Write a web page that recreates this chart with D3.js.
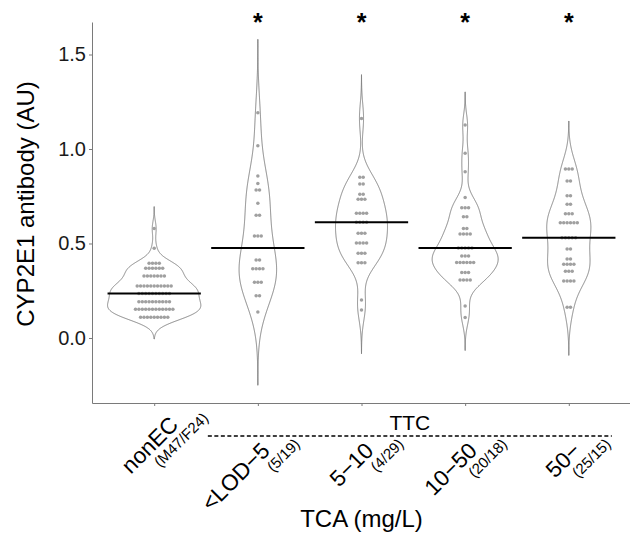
<!DOCTYPE html>
<html>
<head>
<meta charset="utf-8">
<script src="https://cdn.jsdelivr.net/npm/d3@7"></script>
<style>
  body { margin: 0; background: #fff; }
  text { font-family: "Liberation Sans", Arial, sans-serif; }
</style>
</head>
<body>
<svg id="chart" width="630" height="538"></svg>
<script>
'use strict';

var groups = ['nonEC', '<LOD\u22125', '5\u221210', '10\u221250', '50\u2212'];
var groupCounts = ['(M47/F24)', '(5/19)', '(4/29)', '(20/18)', '(25/15)'];
var starred = [false, true, true, true, true];
var ttcGroups = groups.slice(1);
var yTicks = [0, 0.5, 1.0, 1.5];

// dot rows: [value, number of dots in the row]
var nonECRows = [[0.58, 1], [0.475, 1], [0.395, 4], [0.369, 6], [0.328, 7],
  [0.275, 11], [0.236, 10], [0.192, 10], [0.152, 12], [0.110, 9]];
var lodTo5Rows = [[1.192, 1], [1.017, 1], [0.857, 1], [0.818, 1], [0.783, 2],
  [0.713, 1], [0.649, 2], [0.540, 3], [0.413, 2], [0.367, 4], [0.295, 3],
  [0.224, 2], [0.138, 1]];
var from5To10Rows = [[1.162, 1], [0.850, 2], [0.815, 2], [0.760, 2], [0.734, 3],
  [0.660, 4], [0.612, 4], [0.554, 3], [0.503, 4], [0.448, 3], [0.398, 3],
  [0.201, 1], [0.148, 1]];
var from10To50Rows = [[1.127, 1], [0.977, 1], [0.880, 1], [0.744, 1], [0.689, 3],
  [0.642, 2], [0.580, 2], [0.550, 4], [0.476, 5], [0.434, 3], [0.400, 6],
  [0.346, 3], [0.307, 4], [0.169, 1], [0.109, 1]];
var over50Rows = [[0.894, 3], [0.831, 2], [0.753, 2], [0.707, 2], [0.658, 3],
  [0.610, 6], [0.531, 5], [0.471, 2], [0.418, 2], [0.390, 4], [0.353, 3],
  [0.302, 4], [0.162, 2]];

var rowsByGroup = [nonECRows, lodTo5Rows, from5To10Rows, from10To50Rows, over50Rows];

var svg = d3.select('#chart');

var x = d3.scalePoint().domain(groups).range([92, 631]).padding(0.6);
var y = d3.scaleLinear().domain([-0.344, 1.672]).range([403, 22]);
var halfBand = x.step() * 0.45;

function expand(rows) {
  var out = [];
  rows.forEach(function (r) {
    for (var i = 0; i < r[1]; i++) {
      out.push(r[0]);
    }
  });
  return out;
}

// bandwidth as R's bw.nrd0
function bwNrd0(values) {
  var sd = d3.deviation(values);
  var iqr = (d3.quantile(values, 0.75) - d3.quantile(values, 0.25)) / 1.34;
  var lo = Math.min(sd, iqr) || sd;
  return 0.9 * lo * Math.pow(values.length, -0.2);
}

// gaussian kernel density, not trimmed (cut = 3)
function kde(values) {
  var bw = bwNrd0(values);
  var lo = d3.min(values) - 3 * bw;
  var hi = d3.max(values) + 3 * bw;
  var norm = values.length * bw * Math.sqrt(2 * Math.PI);
  var pts = [];
  for (var i = 0; i < 512; i++) {
    var t = lo + (hi - lo) * i / 511;
    var s = 0;
    for (var j = 0; j < values.length; j++) {
      var z = (t - values[j]) / bw;
      s += Math.exp(-0.5 * z * z);
    }
    pts.push({value: t, density: s / norm});
  }
  return pts;
}

var series = groups.map(function (g, i) {
  var values = expand(rowsByGroup[i]);
  return {
    name: g,
    rows: rowsByGroup[i],
    values: values,
    curve: kde(values),
    median: d3.median(values)
  };
});

// scale = "area": all violins share one density scale
var maxDensity = d3.max(series, function (s) {
  return d3.max(s.curve, function (p) { return p.density; });
});

// axes
var yAxis = svg.append('g')
  .attr('transform', 'translate(92,0)')
  .call(d3.axisLeft(y).tickValues(yTicks).tickSize(3).tickSizeOuter(0)
    .tickFormat(d3.format('.1f')));
var xAxis = svg.append('g')
  .attr('transform', 'translate(0,403)')
  .call(d3.axisBottom(x).tickSize(3).tickSizeOuter(0).tickFormat(''));

[yAxis, xAxis].forEach(function (a) {
  a.select('.domain').attr('stroke', '#7a7a7a').attr('stroke-width', 1);
  a.selectAll('.tick line').attr('stroke', '#7a7a7a');
});
yAxis.selectAll('.tick text')
  .attr('font-size', 20)
  .attr('fill', '#1a1a1a')
  .attr('font-family', '"Liberation Sans", Arial, sans-serif')
  .attr('x', -6);

var violinArea = d3.area()
  .y(function (p) { return y(p.value); });

var groupG = svg.selectAll('g.violin')
  .data(series)
  .enter()
  .append('g')
  .attr('class', 'violin');

groupG.append('path')
  .attr('d', function (s) {
    var cx = x(s.name);
    return violinArea
      .x0(function (p) { return cx - halfBand * p.density / maxDensity; })
      .x1(function (p) { return cx + halfBand * p.density / maxDensity; })(s.curve);
  })
  .attr('fill', '#fff')
  .attr('stroke', '#767676')
  .attr('stroke-width', 0.9);

var dotStep = 3.4;
groupG.each(function (s) {
  var cx = x(s.name);
  var dots = [];
  s.rows.forEach(function (r) {
    for (var i = 0; i < r[1]; i++) {
      dots.push({cx: cx + (i - (r[1] - 1) / 2) * dotStep, v: r[0]});
    }
  });
  d3.select(this).selectAll('circle')
    .data(dots)
    .enter()
    .append('circle')
    .attr('cx', function (d) { return d.cx; })
    .attr('cy', function (d) { return y(d.v); })
    .attr('r', 1.75)
    .attr('fill', '#a0a0a0');
});

groupG.append('line')
  .attr('x1', function (s) { return x(s.name) - halfBand; })
  .attr('x2', function (s) { return x(s.name) + halfBand; })
  .attr('y1', function (s) { return y(s.median); })
  .attr('y2', function (s) { return y(s.median); })
  .attr('stroke', '#000')
  .attr('stroke-width', 2);

// significance stars
svg.selectAll('text.star')
  .data(groups.filter(function (g, i) { return starred[i]; }))
  .enter()
  .append('text')
  .attr('class', 'star')
  .attr('x', function (g) { return x(g); })
  .attr('y', 31)
  .attr('text-anchor', 'middle')
  .attr('font-size', 25)
  .attr('font-weight', 'bold')
  .text('*');

// rotated category labels; the TTC ones sit one step lower, under the bracket
var labelG = svg.selectAll('g.cat')
  .data(groups)
  .enter()
  .append('g')
  .attr('class', 'cat')
  .attr('transform', function (g) {
    var under = ttcGroups.indexOf(g) >= 0;
    var ax = x(g) + (under ? 43 : 55);
    var ay = under ? 445 : 419;
    return 'translate(' + ax + ',' + ay + ') rotate(-45)';
  });
labelG.append('text')
  .attr('x', -26)
  .attr('y', -16)
  .attr('text-anchor', 'end')
  .attr('font-size', 22.5)
  .text(function (g) { return g; });
labelG.append('text')
  .attr('text-anchor', 'end')
  .attr('font-size', 15)
  .text(function (g, i) { return groupCounts[i]; });

// TTC bracket
var bracketLeft = x(ttcGroups[0]) - 50;
var bracketRight = x(ttcGroups[ttcGroups.length - 1]) + 43;
svg.append('line')
  .attr('x1', bracketLeft)
  .attr('x2', bracketRight)
  .attr('y1', 436)
  .attr('y2', 436)
  .attr('stroke', '#000')
  .attr('stroke-width', 1.3)
  .attr('stroke-dasharray', '4,2.5');
svg.append('text')
  .attr('x', (bracketLeft + bracketRight) / 2)
  .attr('y', 430)
  .attr('text-anchor', 'middle')
  .attr('font-size', 21)
  .text('TTC');

// axis titles
svg.append('text')
  .attr('transform', 'translate(34,204) rotate(-90)')
  .attr('text-anchor', 'middle')
  .attr('font-size', 24)
  .text('CYP2E1 antibody (AU)');
svg.append('text')
  .attr('x', (92 + 631) / 2)
  .attr('y', 527)
  .attr('text-anchor', 'middle')
  .attr('font-size', 24)
  .text('TCA (mg/L)');
</script>
</body>
</html>
